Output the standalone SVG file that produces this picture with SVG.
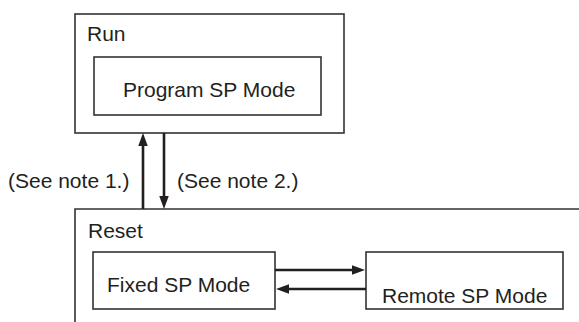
<svg xmlns="http://www.w3.org/2000/svg" width="579" height="322" viewBox="0 0 579 322">
<style>
.box{fill:none;stroke:#333;stroke-width:1.6}
.t{font-family:"Liberation Sans",Arial,sans-serif;font-size:21px;fill:#231f20}
.arr{stroke:#231f20;stroke-width:2.6;fill:none;marker-end:url(#ah)}
</style>
<defs>
<marker id="ah" markerUnits="userSpaceOnUse" markerWidth="13" markerHeight="10" refX="1" refY="4.75" orient="auto">
<path d="M0,0 L13,4.75 L0,9.5 z" fill="#231f20"/>
</marker>
</defs>
<rect width="579" height="322" fill="#fff"/>
<g id="run">
<rect class="box" x="75" y="14" width="269" height="119"/>
<text class="t" x="87" y="41">Run</text>
</g>
<g id="program-sp">
<rect class="box" x="94" y="57" width="227" height="58"/>
<text class="t" x="123" y="97">Program SP Mode</text>
</g>
<g id="reset">
<path class="box" d="M75,322 L75,209 L579,209"/>
<text class="t" x="88" y="238">Reset</text>
</g>
<g id="fixed-sp">
<rect class="box" x="93" y="252" width="182" height="57"/>
<text class="t" x="107" y="292">Fixed SP Mode</text>
</g>
<g id="remote-sp">
<rect class="box" x="366" y="252" width="197" height="57"/>
<text class="t" x="382" y="303">Remote SP Mode</text>
</g>
<g id="connectors">
<line class="arr" x1="143" y1="209" x2="143" y2="145"/>
<line class="arr" x1="164" y1="133" x2="164" y2="197"/>
<line class="arr" x1="275" y1="270" x2="353" y2="270"/>
<line class="arr" x1="366" y1="289" x2="288" y2="289"/>
<text class="t" x="8" y="188">(See note 1.)</text>
<text class="t" x="177" y="188">(See note 2.)</text>
</g>
</svg>
